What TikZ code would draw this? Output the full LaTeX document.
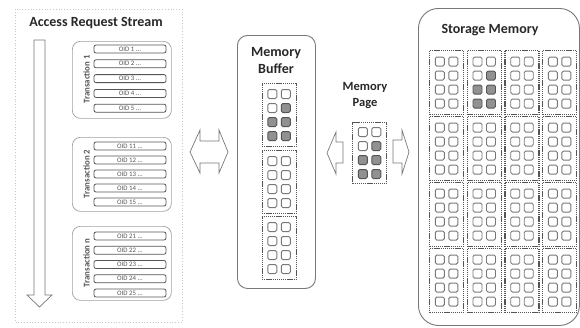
\documentclass[tikz,border=0pt]{standalone}
\usepackage{fontspec}
\setmainfont{Carlito}
\usetikzlibrary{positioning, calc}
\definecolor{edgegray}{RGB}{120,120,120}
\definecolor{panelgray}{RGB}{200,200,200}
\definecolor{hotgray}{RGB}{145,145,145}
\definecolor{textgray}{RGB}{85,85,85}
\definecolor{titleink}{RGB}{40,40,40}

\tikzset{
  pagebox/.style={draw=textgray, dash pattern=on 1.3pt off 0.8pt, line width=1.1pt,
    inner sep=0pt, minimum width=34pt, anchor=north west},
  cellbox/.style={draw=edgegray, line width=0.9pt, rounded corners=1.5pt, fill=white,
    minimum size=9pt, inner sep=0pt},
  cellhot/.style={cellbox, fill=hotgray, draw=textgray},
  blockarrow/.style={draw=edgegray, line width=0.7pt, fill=white, line join=miter},
  groupbox/.style={draw=edgegray!70, line width=0.7pt, rounded corners=8pt,
    inner sep=0pt, minimum width=99pt, anchor=north west},
  oidbox/.style={draw=textgray, line width=0.8pt, rounded corners=2pt, inner sep=0pt,
    minimum width=72pt, minimum height=8pt, font=\fontsize{6.8}{7}\selectfont, text=textgray},
  titletext/.style={font=\fontsize{14}{16}\selectfont\bfseries, text=titleink},
}

% one page: name, x, y, height, highlighted (0/1)
\newcommand{\mempage}[5]{%
  \node[pagebox, minimum height=#4pt] (#1) at (#2,#3) {};
  \foreach \r in {0,...,3}{
    \foreach \c in {0,1}{
      \pgfmathtruncatemacro\isfilled{#5*or(and(\r==1,\c==1),\r>1)}
      \ifnum\isfilled=1 \def\cellstyle{cellhot}\else\def\cellstyle{cellbox}\fi
      \node[\cellstyle] at ($(#1.center)+({(\c-0.5)*13.5},{(\r-1.5)*14})$) {};
    }
  }
}

% one transaction: name, y top, height, label, first OID, first y, pitch
\newcommand{\txgroup}[7]{%
  \node[groupbox, minimum height=#3pt] (#1) at (72,#2) {};
  \node[rotate=90, font=\fontsize{8.8}{9}\selectfont\bfseries, text=textgray]
    at (86.5,#2+#3/2) {#4};
  \foreach \i in {0,...,4}{
    \pgfmathtruncatemacro\oid{#5+\i}
    \node[oidbox] (#1-\i) at (130,#6+\i*#7) {OID \oid\ ...};
  }
}

\begin{document}
\begin{tikzpicture}[x=1pt, y=-1pt]
  \useasboundingbox[fill=white] (0,0) rectangle (580,327);

  % access request stream
  \draw[panelgray, dotted, line width=0.8pt] (15,9) rectangle (182,322);
  \node[titletext] (streamtitle) at (96,23) {Access Request Stream};
  \draw[blockarrow] (34,40) -- (45,40) -- (45,295) -- (52,295) -- (39.5,307)
    -- (27,295) -- (34,295) -- cycle;
  \txgroup{tx1}{41}{77}{Transaction 1}{1}{49}{14.8}
  \txgroup{tx2}{137}{74}{Transaction 2}{11}{146}{14}
  \txgroup{txn}{226}{74}{Transaction n}{21}{236}{14.25}

  % stream <-> buffer
  \draw[blockarrow] (190,152) -- (200,130) -- (200,141) -- (219,141) -- (219,130)
    -- (228,152) -- (219,173) -- (219,163) -- (200,163) -- (200,173) -- cycle;

  % memory buffer
  \node[draw=edgegray, line width=0.9pt, rounded corners=10pt, inner sep=0pt,
    minimum width=78pt, minimum height=253pt, anchor=north west] (buffer) at (237,35) {};
  \node[font=\fontsize{14}{17}\selectfont\bfseries, text=titleink, align=center]
    (buffertitle) at (276,61) {Memory\\Buffer};
  \mempage{buf1}{261.5}{83}{63}{1}
  \mempage{buf2}{261.5}{150}{63}{0}
  \mempage{buf3}{261.5}{216}{63}{0}

  % memory page
  \node[font=\fontsize{12.5}{16}\selectfont\bfseries, text=titleink, align=center]
    (pagetitle) at (365,96) {Memory\\Page};
  \mempage{page}{352}{122}{61}{1}
  \draw[blockarrow] (327,153) -- (336,132) -- (336,142) -- (343,142) -- (343,163)
    -- (336,163) -- (336,174) -- cycle;
  \draw[blockarrow] (393,140) -- (402,140) -- (402,130) -- (409,152) -- (402,174)
    -- (402,163) -- (393,163) -- cycle;

  % storage memory
  \node[draw=edgegray, line width=0.9pt, rounded corners=20pt, inner sep=0pt,
    minimum width=161pt, minimum height=317pt, anchor=north west] (storage) at (418,8) {};
  \node[titletext] (storagetitle) at (490,30) {Storage Memory};
  \foreach \row in {0,...,3}{
    \foreach \col in {0,...,3}{
      \pgfmathtruncatemacro\hot{and(\row==0,\col==1)}
      \mempage{st-\row-\col}{429+\col*37.7}{50+\row*66}{64}{\hot}
    }
  }
\end{tikzpicture}
\end{document}
